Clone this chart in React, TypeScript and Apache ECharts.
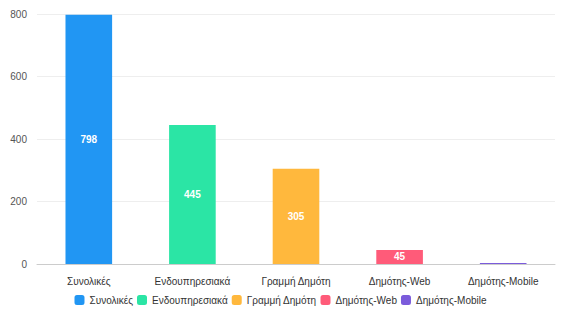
import React, { useEffect, useRef } from "react";
import * as echarts from "echarts";

const categories = ["Συνολικές", "Ενδουπηρεσιακά", "Γραμμή Δημότη", "Δημότης-Web", "Δημότης-Mobile"];
const values = [798, 445, 305, 45, 3];
const colors = ["#2196F3", "#2BE5A5", "#FFB83D", "#FF5B79", "#7B5BDB"];
const yTicks = [0, 200, 400, 600, 800];

export default function App() {
  const ref = useRef<HTMLDivElement>(null);
  useEffect(() => {
    const chart = echarts.init(ref.current!, null, { renderer: "svg" });
    const series = categories.map((name, i) => ({
      name,
      type: "bar",
      stack: "total",
      barWidth: "45%",
      itemStyle: { color: colors[i] },
      label: {
        show: true,
        position: "inside",
        color: "#fff",
        fontWeight: "bold",
        fontSize: 10,
        formatter: (p: any) => (p.value >= 10 ? String(p.value) : ""),
      },
      data: categories.map((_, j) => (j === i ? values[i] : null)),
    }));
    chart.setOption({
      animation: false,
      textStyle: { fontFamily: "'Liberation Sans', Arial, sans-serif" },
      grid: { left: 37, right: 6, top: 14, bottom: 47 },
      legend: {
        bottom: 1,
        left: "center",
        itemWidth: 10,
        itemHeight: 10,
        itemGap: 4,
        icon: "roundRect",
        textStyle: { fontSize: 10, color: "#333" },
        data: categories,
      },
      xAxis: {
        type: "category",
        data: categories,
        axisLine: { lineStyle: { color: "#ccc" } },
        axisTick: { lineStyle: { color: "#ccc" } },
        axisLabel: { fontSize: 10, color: "#333", margin: 12, interval: 0 },
      },
      yAxis: {
        type: "value",
        min: yTicks[0],
        max: yTicks[yTicks.length - 1],
        interval: 200,
        axisLine: { show: false },
        axisTick: { show: false },
        axisLabel: { fontSize: 10, color: "#555", margin: 10 },
        splitLine: { lineStyle: { color: "#eee" } },
      },
      series,
    });
    return () => chart.dispose();
  }, []);
  return <div ref={ref} style={{ width: 561, height: 311, position: "absolute", left: 0, top: 0 }} />;
}
